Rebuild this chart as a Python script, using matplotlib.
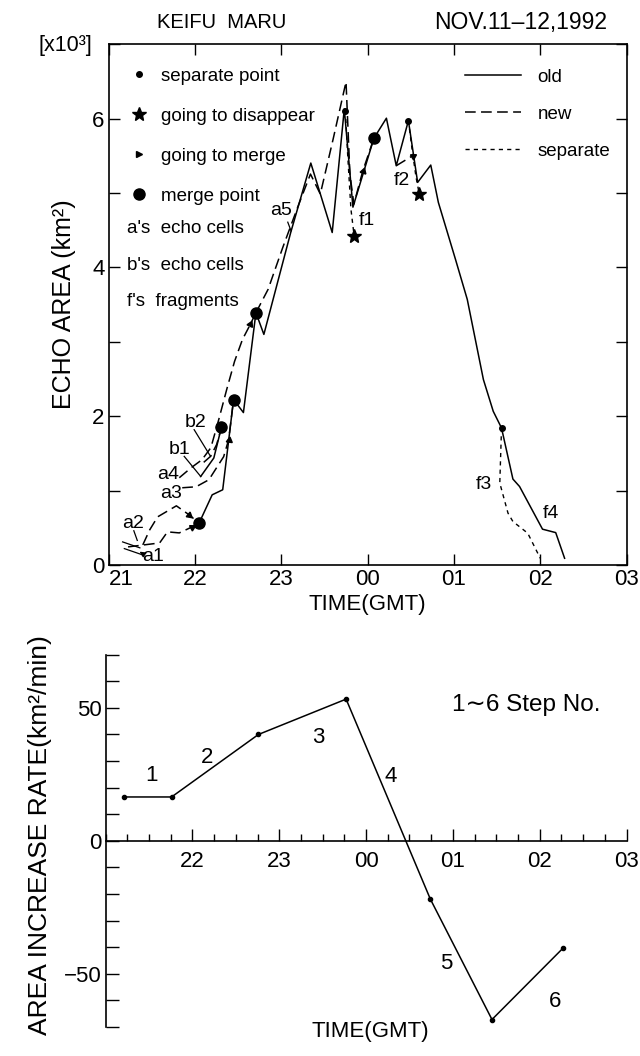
import matplotlib
matplotlib.use("Agg")
import matplotlib.pyplot as plt
from matplotlib.lines import Line2D
from matplotlib.ticker import MultipleLocator, FixedLocator

plt.rcParams['font.family'] = ['Liberation Sans', 'DejaVu Sans']

# hours after 21 GMT on the x axis
hour_labels = ['21', '22', '23', '00', '01', '02', '03']

# ---- echo area (x10^3 km2) ----
old_t = [1.046, 1.198, 1.320, 1.446, 1.560, 1.705, 1.797, 2.109, 2.341, 2.589, 2.729,
         2.829, 3.072, 3.217, 3.331, 3.472, 3.579, 3.731, 3.819, 4.017, 4.154, 4.341,
         4.455, 4.551, 4.683, 4.760, 5.026, 5.179, 5.282]
old_v = [0.562, 0.943, 1.011, 2.224, 2.049, 3.392, 3.100, 4.474, 5.404, 4.470, 6.132,
         4.811, 5.737, 6.007, 5.368, 5.974, 5.144, 5.377, 4.875, 4.111, 3.571, 2.493,
         2.066, 1.842, 1.155, 1.055, 0.481, 0.435, 0.090]

b_t = [1.065, 1.217, 1.305]
b_v = [1.190, 1.438, 1.850]

a1_t = [0.223, 0.589, 0.680, 0.817, 0.966, 1.046]
a1_v = [0.243, 0.296, 0.445, 0.431, 0.512, 0.562]
a2_t = [0.394, 0.474, 0.566, 0.783, 0.931, 1.046]
a2_v = [0.270, 0.472, 0.647, 0.795, 0.674, 0.562]
a3_t = [0.851, 1.011, 1.160, 1.331, 1.389, 1.446]
a3_v = [1.038, 1.051, 1.146, 1.456, 1.685, 2.224]
a4_t = [0.817, 0.954, 1.080, 1.183, 1.274, 1.366, 1.457, 1.549, 1.640, 1.705]
a4_v = [1.173, 1.307, 1.415, 1.577, 1.954, 2.358, 2.736, 3.032, 3.235, 3.392]
b2_t = [1.100, 1.179, 1.250, 1.305]
b2_v = [1.380, 1.460, 1.620, 1.850]
a5_t = [1.705, 1.846, 2.017, 2.189, 2.337, 2.451, 2.600, 2.749, 2.794, 2.840, 2.943, 3.072]
a5_v = [3.392, 3.706, 4.272, 4.811, 5.256, 4.987, 5.728, 6.496, 5.256, 4.852, 5.296, 5.737]
f2m_t = [3.331, 3.522]
f2m_v = [5.368, 5.503]

f1_t = [2.741, 2.771, 2.806, 2.843]
f1_v = [6.109, 5.458, 4.784, 4.425]
f2_t = [3.472, 3.514, 3.560, 3.598]
f2_v = [5.974, 5.593, 5.216, 4.987]
f3_t = [4.551, 4.531, 4.626, 4.683, 4.855, 5.000]
f3_v = [1.842, 1.101, 0.697, 0.584, 0.427, 0.090]

sep_t = [2.741, 3.472, 4.551]
sep_v = [6.109, 5.974, 1.842]
merge_t = [1.046, 1.305, 1.446, 1.705, 3.072]
merge_v = [0.562, 1.850, 2.224, 3.392, 5.737]
star_t = [2.843, 3.598]
star_v = [4.425, 4.987]
arrow_t = [0.966, 0.931, 1.389, 1.640, 2.943, 3.522]
arrow_v = [0.512, 0.674, 1.685, 3.235, 5.296, 5.503]
arrow_dir = [28, -40, 83, 65, 72, 31]

cell_names = ['a1', 'a2', 'a3', 'a4', 'b1', 'b2', 'a5', 'f1', 'f2', 'f3', 'f4']
cell_t = [0.512, 0.283, 0.722, 0.683, 0.817, 1.008, 1.998, 2.989, 3.400, 4.341, 5.122]
cell_v = [0.112, 0.562, 0.966, 1.213, 1.550, 1.910, 4.761, 4.627, 5.166, 1.078, 0.697]

# ---- area increase rate (km2/min) ----
rate_t = [0.21, 0.76, 1.76, 2.77, 3.74, 4.45, 5.27]
rate_v = [16.5, 16.5, 40.0, 53.3, -21.9, -67.2, -40.3]
step_no = ['1', '2', '3', '4', '5', '6']
step_t = [0.526, 1.164, 2.445, 3.289, 3.919, 5.173]
step_v = [24.4, 31.5, 38.8, 24.3, -46.3, -60.3]

OLD = dict(color='k', lw=1.1, ls='-')
NEW = dict(color='k', lw=1.1, ls=(0, (7, 3.5)))
SEP = dict(color='k', lw=1.0, ls=(0, (3, 3)))

fig = plt.figure(figsize=(6.4, 10.56), dpi=100)

# top panel: echo area
ax1 = fig.add_axes([0.170, 0.465, 0.809, 0.493])
ax1.plot(old_t, old_v, **OLD)
ax1.plot(b_t, b_v, **OLD)
for tt, vv in [(a1_t, a1_v), (a2_t, a2_v), (a3_t, a3_v), (a4_t, a4_v),
               (b2_t, b2_v), (a5_t, a5_v), (f2m_t, f2m_v)]:
    ax1.plot(tt, vv, **NEW)
for tt, vv in [(f1_t, f1_v), (f2_t, f2_v), (f3_t, f3_v)]:
    ax1.plot(tt, vv, **SEP)

ax1.plot(sep_t, sep_v, 'o', color='k', ms=4)
ax1.plot(merge_t, merge_v, 'o', color='k', ms=8)
ax1.plot(star_t, star_v, '*', color='k', ms=10)
for tt, vv, ang in zip(arrow_t, arrow_v, arrow_dir):
    ax1.plot(tt, vv, marker=(3, 0, ang - 90), color='k', ms=5)

for name, tt, vv in zip(cell_names, cell_t, cell_v):
    ax1.text(tt, vv, name, fontsize=14, ha='center', va='center')

# leader lines for the cell names
ax1.annotate('', xy=(0.33, 0.20), xytext=(0.42, 0.13),
             arrowprops=dict(arrowstyle='-|>', color='k', lw=0.9, mutation_scale=8))
ax1.plot([0.16, 0.36], [0.31, 0.23], 'k-', lw=0.9)
ax1.plot([0.18, 0.38], [0.22, 0.14], 'k-', lw=0.9)
ax1.plot([0.29, 0.33], [0.46, 0.33], 'k-', lw=0.9)
ax1.plot([0.874, 1.065], [1.460, 1.190], 'k-', lw=0.9)
ax1.plot([0.989, 1.179], [1.819, 1.460], 'k-', lw=0.9)
ax1.plot([2.074, 2.112], [4.609, 4.492], 'k-', lw=0.9)

ax1.set_xlim(0, 6)
ax1.set_ylim(0, 7)
ax1.set_xticks(range(7))
ax1.set_xticklabels(hour_labels)
ax1.get_xticklabels()[0].set_ha('left')
ax1.yaxis.set_major_locator(FixedLocator([0, 2, 4, 6]))
ax1.yaxis.set_minor_locator(FixedLocator([1, 3, 5, 7]))
ax1.tick_params(which='both', direction='in', top=True, right=True, length=8,
                width=1.0, labelsize=16, pad=3)
for sp in ax1.spines.values():
    sp.set_linewidth(1.2)
ax1.set_xlabel('TIME(GMT)', fontsize=16, labelpad=3)
ax1.set_ylabel('ECHO AREA (km²)', fontsize=18, labelpad=12)

marker_handles = [
    Line2D([], [], ls='none', marker='o', color='k', ms=4),
    Line2D([], [], ls='none', marker='*', color='k', ms=10),
    Line2D([], [], ls='none', marker='>', color='k', ms=5),
    Line2D([], [], ls='none', marker='o', color='k', ms=8),
]
leg1 = ax1.legend(marker_handles, ['separate point', 'going to disappear',
                                   'going to merge', 'merge point'],
                  loc='upper left', bbox_to_anchor=(0.04, 0.955), frameon=False,
                  fontsize=13.5, handlelength=1.0, handletextpad=0.7,
                  labelspacing=1.22, borderpad=0, borderaxespad=0)
ax1.add_artist(leg1)
for yy, txt in [(0.647, "a's  echo cells"), (0.576, "b's  echo cells"),
                (0.507, "f's  fragments")]:
    ax1.text(0.036, yy, txt, transform=ax1.transAxes, fontsize=13.5, va='center')

line_handles = [Line2D([], [], **OLD), Line2D([], [], **NEW), Line2D([], [], **SEP)]
ax1.legend(line_handles, ['old', 'new', 'separate'], loc='upper left',
           bbox_to_anchor=(0.687, 0.953), frameon=False, fontsize=13.5,
           handlelength=3.0, handletextpad=0.9, labelspacing=1.05,
           borderpad=0, borderaxespad=0)

fig.text(222 / 640, 1 - 22 / 1056, 'KEIFU  MARU', fontsize=14.5, ha='center', va='center')
fig.text(521 / 640, 1 - 22 / 1056, 'NOV.11–12,1992', fontsize=16.5, ha='center', va='center')
fig.text(65 / 640, 1 - 46 / 1056, '[x10³]', fontsize=15.5, ha='center', va='center')

# bottom panel: area increase rate
ax2 = fig.add_axes([0.165, 0.0275, 0.814, 0.3525])
ax2.plot(rate_t, rate_v, 'k-', lw=1.1, marker='o', ms=3)
for s, tt, vv in zip(step_no, step_t, step_v):
    ax2.text(tt, vv, s, fontsize=16, ha='center', va='center')
ax2.text(4.84, 51, '1∼6 Step No.', fontsize=17.5, ha='center', va='center')

ax2.set_xlim(0, 6)
ax2.set_ylim(-70, 70)
ax2.spines['top'].set_visible(False)
ax2.spines['right'].set_visible(False)
ax2.spines['bottom'].set_position(('data', 0))
for sp in ax2.spines.values():
    sp.set_linewidth(1.2)
ax2.set_xticks(range(1, 7))
ax2.set_xticklabels(hour_labels[1:])
ax2.xaxis.set_minor_locator(MultipleLocator(0.25))
ax2.yaxis.set_major_locator(FixedLocator([-50, 0, 50]))
ax2.yaxis.set_minor_locator(MultipleLocator(10))
ax2.tick_params(which='major', direction='in', length=9, width=1.0, labelsize=16, pad=3)
ax2.tick_params(axis='x', which='major', pad=7)
ax2.tick_params(axis='x', which='minor', direction='in', length=5, width=1.0)
ax2.tick_params(axis='y', which='minor', direction='in', length=9, width=1.0)

fig.text(370 / 640, 1 - 1032 / 1056, 'TIME(GMT)', fontsize=16, ha='center', va='center')
fig.text(40 / 640, 1 - 835 / 1056, 'AREA INCREASE RATE(km²/min)', fontsize=19,
         rotation=90, ha='center', va='center')

fig.savefig('out.png', dpi=100)
